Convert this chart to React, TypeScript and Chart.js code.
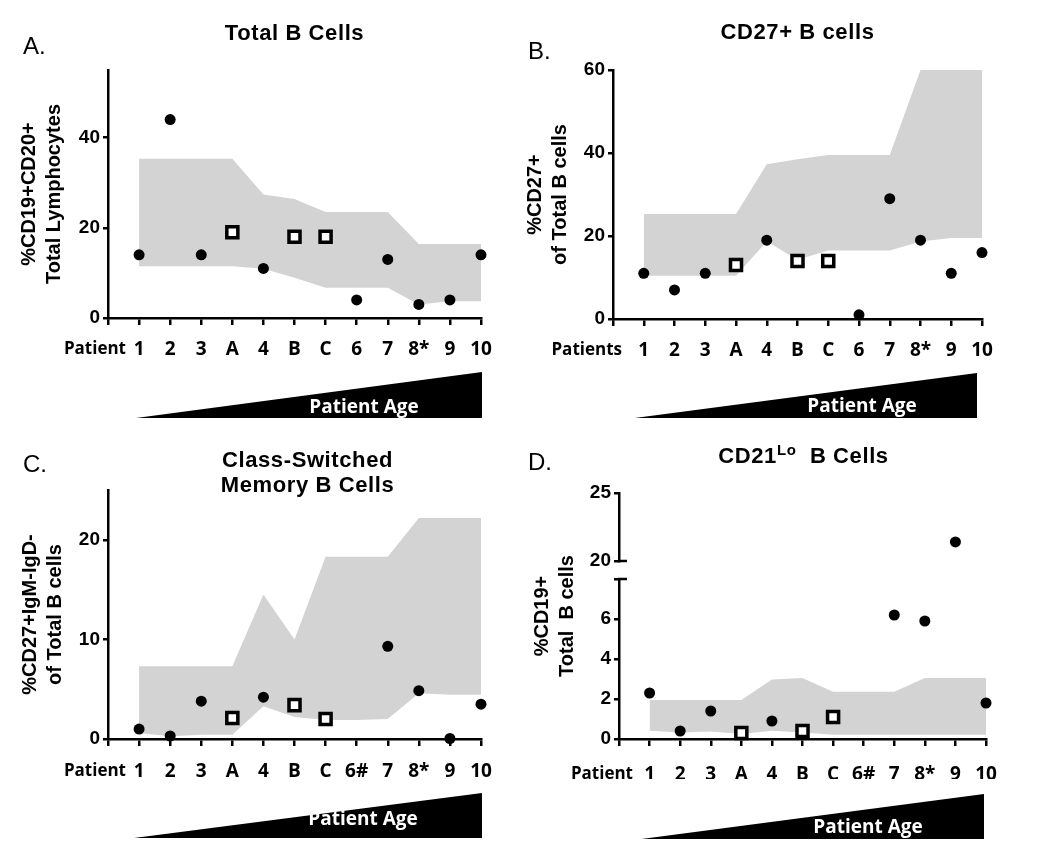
import React, { useEffect, useRef } from 'react';
import { Chart, registerables } from 'chart.js';

Chart.register(...registerables);

// ---------------- data ----------------
// x positions: index 0 is the axis origin, then the patients / controls in age order
const patientLabelsAB = ['1', '2', '3', 'A', '4', 'B', 'C', '6', '7', '8*', '9', '10'];
const patientLabelsCD = ['1', '2', '3', 'A', '4', 'B', 'C', '6#', '7', '8*', '9', '10'];

// A. Total B cells (%CD19+CD20+ of total lymphocytes)
const totalBPatients = [14, 44, 14, null, 11, null, null, 4, 13, 3, 4, 14];
const totalBControls = [null, null, null, 19, null, 18, 18, null, null, null, null, null];
const totalBRangeHigh = [35.3, 35.3, 35.3, 35.3, 27.4, 26.4, 23.5, 23.5, 23.5, 16.4, 16.4, 16.4];
const totalBRangeLow = [11.5, 11.5, 11.5, 11.5, 10.9, 8.9, 6.7, 6.7, 6.7, 3.0, 3.7, 3.7];

// B. CD27+ B cells (% of total B cells)
const cd27Patients = [11, 7, 11, null, 19, null, null, 1, 29, 19, 11, 16];
const cd27Controls = [null, null, null, 13, null, 14, 14, null, null, null, null, null];
const cd27RangeHigh = [25.3, 25.3, 25.3, 25.3, 37.3, 38.5, 39.5, 39.5, 39.5, 60, 60, 60];
const cd27RangeLow = [10.4, 10.4, 10.4, 10.4, 18.7, 14.3, 16.5, 16.5, 16.5, 18.7, 19.5, 19.5];

// C. Class-switched memory B cells (%CD27+IgM-IgD- of total B cells)
const csmPatients = [1.0, 0.3, 3.8, null, 4.2, null, null, null, 9.3, 4.85, 0.05, 3.5];
const csmControls = [null, null, null, 2.1, null, 3.4, 2.0, null, null, null, null, null];
const csmRangeHigh = [7.3, 7.3, 7.3, 7.3, 14.5, 10.0, 18.3, 18.3, 18.3, 22.2, 22.2, 22.2];
const csmRangeLow = [0.6, 0.27, 0.43, 0.43, 3.3, 2.2, 1.9, 1.9, 2.0, 4.6, 4.45, 4.45];

// D. CD21lo B cells (% of CD19+ total B cells)
const cd21Patients = [2.3, 0.4, 1.4, null, 0.9, null, null, null, 6.2, 5.9, 21.4, 1.8];
const cd21Controls = [null, null, null, 0.3, null, 0.4, 1.1, null, null, null, null, null];
const cd21RangeHigh = [1.95, 1.95, 1.95, 1.95, 2.97, 3.05, 2.36, 2.36, 2.36, 3.05, 3.05, 3.05];
const cd21RangeLow = [0.41, 0.33, 0.38, 0.25, 0.41, 0.33, 0.21, 0.21, 0.21, 0.21, 0.21, 0.21];

// ---------------- styles ----------------
const BAND = '#d3d3d3';
const ARIAL = '"Liberation Sans", Arial, Helvetica, sans-serif';
const OPEN = '"Open Sans", "Liberation Sans", sans-serif';
const X_FONT_SIZE = 19;

type Val = number | null;
type Seg = { t: string; sup?: boolean };

interface PanelDef {
  id: string;
  left: number; top: number; width: number; height: number;
  labels: string[];
  patients: Val[]; controls: Val[]; high: number[]; low: number[];
  yMin: number; yMax: number; yStep: number;
  brk?: { lowMax: number; lowStep: number; topMin: number; topMax: number; topStep: number; wLow: number; wGap: number; wTop: number };
  yTitle: string[]; yTitlePad: number;
  axisWidth: number; titleAxisWidth?: number;
  pad: { top: number; right: number; bottom: number };
  xTickPad: number;
  letter: string; letterX: number; letterY: number;
  title: Seg[][]; titleBase: number[]; titleDx: number;
  rowLabel: string; rowLabelDx: number;
  tri: { dl: number; dr: number; top: number; bottom: number; textDx: number; textBase: number };
}

const panels: PanelDef[] = [
  {
    id: 'A', left: 0, top: 0, width: 520, height: 420,
    labels: patientLabelsAB,
    patients: totalBPatients, controls: totalBControls, high: totalBRangeHigh, low: totalBRangeLow,
    yMin: 0, yMax: 55, yStep: 20,
    yTitle: ['%CD19+CD20+', 'Total Lymphocytes'], yTitlePad: 16.5,
    axisWidth: 108,
    pad: { top: 70, right: 39, bottom: 62 },
    xTickPad: 13,
    letter: 'A.', letterX: 23, letterY: 54,
    title: [[{ t: 'Total B Cells' }]], titleBase: [40], titleDx: 0,
    rowLabel: 'Patient', rowLabelDx: 18,
    tri: { dl: -3, dr: 1, top: 372, bottom: 418, textDx: -118, textBase: 413 },
  },
  {
    id: 'B', left: 520, top: 0, width: 530, height: 420,
    labels: patientLabelsAB,
    patients: cd27Patients, controls: cd27Controls, high: cd27RangeHigh, low: cd27RangeLow,
    yMin: 0, yMax: 60, yStep: 20,
    yTitle: ['%CD27+', 'of Total B cells'], yTitlePad: 2.5,
    axisWidth: 93,
    pad: { top: 70, right: 68, bottom: 61 },
    xTickPad: 13,
    letter: 'B.', letterX: 8, letterY: 59,
    title: [[{ t: 'CD27+ B cells' }]], titleBase: [39], titleDx: 0,
    rowLabel: 'Patients', rowLabelDx: 9,
    tri: { dl: -9, dr: -5, top: 373, bottom: 418, textDx: -115, textBase: 412 },
  },
  {
    id: 'C', left: 0, top: 420, width: 520, height: 422,
    labels: patientLabelsCD,
    patients: csmPatients, controls: csmControls, high: csmRangeHigh, low: csmRangeLow,
    yMin: 0, yMax: 25, yStep: 10,
    yTitle: ['%CD27+IgM-IgD-', 'of Total B cells'], yTitlePad: 17.5,
    axisWidth: 108,
    pad: { top: 70, right: 39, bottom: 63 },
    xTickPad: 14,
    letter: 'C.', letterX: 23, letterY: 52,
    title: [[{ t: 'Class-Switched' }], [{ t: 'Memory B Cells' }]], titleBase: [47, 72], titleDx: 13,
    rowLabel: 'Patient', rowLabelDx: 18,
    tri: { dl: -5, dr: 1, top: 373, bottom: 418, textDx: -119, textBase: 405 },
  },
  {
    id: 'D', left: 520, top: 420, width: 530, height: 422,
    labels: patientLabelsCD,
    patients: cd21Patients, controls: cd21Controls, high: cd21RangeHigh, low: cd21RangeLow,
    yMin: 0, yMax: 8, yStep: 2,
    brk: { lowMax: 8, lowStep: 2, topMin: 20, topMax: 25, topStep: 5, wLow: 160, wGap: 18, wTop: 68 },
    yTitle: ['%CD19+', 'Total  B cells'], yTitlePad: 9.5,
    axisWidth: 39, titleAxisWidth: 60,
    pad: { top: 73, right: 64, bottom: 63 },
    xTickPad: 17,
    letter: 'D.', letterX: 8, letterY: 50,
    title: [[{ t: 'CD21' }, { t: 'Lo', sup: true }, { t: '  B Cells' }]], titleBase: [43], titleDx: 1,
    rowLabel: 'Patient', rowLabelDx: 14,
    tri: { dl: -8, dr: -2, top: 374, bottom: 419, textDx: -116, textBase: 413 },
  },
];

const withOrigin = (a: Val[]): Val[] => [null, ...a];

const axisGrid = {
  display: true, drawOnChartArea: false, drawTicks: true,
  tickLength: 5, tickWidth: 2.5, tickColor: '#000', lineWidth: 2.5, color: '#000',
};
const axisBorder = { display: true, color: '#000', width: 2.5 };
const yTickFont = { family: ARIAL, size: 19, weight: 'bold' as const };
const yTitleFont = { family: ARIAL, size: 20, weight: 'bold' as const, lineHeight: 1.25 };

function pointSet(data: Val[], yAxisID: string) {
  return {
    type: 'line' as const, data: withOrigin(data), yAxisID, showLine: false,
    pointStyle: 'circle', pointRadius: 5.5, pointHoverRadius: 5.5,
    pointBackgroundColor: '#000', pointBorderWidth: 0, borderWidth: 0, clip: false as any,
  };
}

function decorPlugin(p: PanelDef) {
  return {
    id: 'decor' + p.id,
    afterDraw(chart: any) {
      const ctx: CanvasRenderingContext2D = chart.ctx;
      const ca = chart.chartArea;
      const xs = chart.scales.x;
      ctx.save();
      ctx.fillStyle = '#000';
      ctx.textBaseline = 'alphabetic';
      ctx.textAlign = 'left';
      // panel letter
      ctx.font = `24px ${ARIAL}`;
      ctx.fillText(p.letter, p.letterX, p.letterY);
      // title
      const cx = (ca.left + ca.right) / 2 + p.titleDx;
      (ctx as any).letterSpacing = '0.6px';
      p.title.forEach((line, i) => {
        const fonts = line.map((s) => (s.sup ? `bold 15px ${ARIAL}` : `bold 22px ${ARIAL}`));
        const widths = line.map((s, j) => {
          ctx.font = fonts[j];
          return ctx.measureText(s.t).width;
        });
        const total = widths.reduce((a, b) => a + b, 0);
        let x = cx - total / 2;
        line.forEach((s, j) => {
          ctx.font = fonts[j];
          ctx.fillText(s.t, x, p.titleBase[i] - (s.sup ? 8 : 0));
          x += widths[j];
        });
      });
      (ctx as any).letterSpacing = '0px';
      // row label ("Patient")
      ctx.font = `bold 17px ${OPEN}`;
      ctx.textAlign = 'right';
      ctx.textBaseline = 'middle';
      ctx.fillText(p.rowLabel, xs.getPixelForValue(0) + p.rowLabelDx, ca.bottom + 7 + p.xTickPad + X_FONT_SIZE * 0.6);
      // age wedge
      const xl = xs.getPixelForValue(1) + p.tri.dl;
      const xr = xs.getPixelForValue(p.labels.length) + p.tri.dr;
      ctx.beginPath();
      ctx.moveTo(xl, p.tri.bottom);
      ctx.lineTo(xr, p.tri.top);
      ctx.lineTo(xr, p.tri.bottom);
      ctx.closePath();
      ctx.fillStyle = '#000';
      ctx.fill();
      ctx.fillStyle = '#fff';
      ctx.font = `bold 19px ${OPEN}`;
      ctx.textAlign = 'center';
      ctx.textBaseline = 'alphabetic';
      ctx.fillText('Patient Age', xr + p.tri.textDx, p.tri.textBase);
      // axis break caps
      if (p.brk) {
        const yl = chart.scales.yLow;
        const yt = chart.scales.yTop;
        const ax = ca.left;
        ctx.strokeStyle = '#000';
        ctx.lineWidth = 2.5;
        ctx.beginPath();
        ctx.moveTo(ax - 1, yt.getPixelForValue(p.brk.topMin));
        ctx.lineTo(ax + 8, yt.getPixelForValue(p.brk.topMin));
        ctx.moveTo(ax - 1, yl.getPixelForValue(p.brk.lowMax));
        ctx.lineTo(ax + 8, yl.getPixelForValue(p.brk.lowMax));
        ctx.stroke();
      }
      ctx.restore();
    },
  };
}

function buildConfig(p: PanelDef): any {
  const lowId = p.brk ? 'yLow' : 'y';
  const datasets: any[] = [];
  if (p.brk) {
    const b = p.brk;
    datasets.push(pointSet(p.patients.map((v) => (v != null && v < b.lowMax ? v : null)), 'yLow'));
    datasets.push(pointSet(p.patients.map((v) => (v != null && v >= b.topMin ? v : null)), 'yTop'));
  } else {
    datasets.push(pointSet(p.patients, 'y'));
  }
  datasets.push({
    type: 'line', data: withOrigin(p.controls), yAxisID: lowId, showLine: false,
    pointStyle: 'rect', pointRadius: 7.8, pointHoverRadius: 7.8,
    pointBackgroundColor: '#fff', pointBorderColor: '#000', pointBorderWidth: 3.5, borderWidth: 0, clip: false,
  });
  datasets.push({
    type: 'line', data: withOrigin(p.high), yAxisID: lowId, borderWidth: 0, pointRadius: 0,
    backgroundColor: BAND, borderColor: BAND, fill: '+1', tension: 0,
  });
  datasets.push({
    type: 'line', data: withOrigin(p.low), yAxisID: lowId, borderWidth: 0, pointRadius: 0,
    backgroundColor: BAND, borderColor: BAND, fill: false, tension: 0,
  });

  const scales: any = {
    x: {
      type: 'category', labels: ['', ...p.labels], offset: false,
      grid: { ...axisGrid, tickLength: 7, offset: false },
      border: axisBorder,
      ticks: {
        autoSkip: false, maxRotation: 0, minRotation: 0, padding: p.xTickPad, color: '#000',
        font: { family: OPEN, size: X_FONT_SIZE, weight: 'bold' },
      },
      afterFit: (s: any) => { s.height = 40; },
    },
  };
  const yTitle = { display: true, text: p.yTitle, color: '#000', font: yTitleFont, padding: { top: p.yTitlePad, bottom: 0 } };
  if (p.brk) {
    const b = p.brk;
    const w = p.axisWidth;
    scales.yLow = {
      type: 'linear', position: 'left', stack: 'd', stackWeight: b.wLow, weight: 0,
      min: 0, max: b.lowMax,
      ticks: {
        stepSize: b.lowStep, includeBounds: false, autoSkip: false, padding: 3, color: '#000', font: yTickFont,
        callback: (v: number) => (v >= b.lowMax ? '' : String(v)),
      },
      grid: axisGrid, border: axisBorder,
      afterFit: (s: any) => { s.width = w; },
    };
    scales.yGap = {
      type: 'linear', position: 'left', stack: 'd', stackWeight: b.wGap, weight: 1,
      ticks: { display: false }, grid: { display: false }, border: { display: false },
      afterFit: (s: any) => { s.width = w; },
    };
    scales.yTop = {
      type: 'linear', position: 'left', stack: 'd', stackWeight: b.wTop, weight: 2,
      min: b.topMin, max: b.topMax,
      ticks: { stepSize: b.topStep, includeBounds: false, autoSkip: false, padding: 3, color: '#000', font: yTickFont },
      grid: axisGrid, border: axisBorder,
      afterFit: (s: any) => { s.width = w; },
    };
    scales.yTitle = {
      type: 'linear', position: 'left', weight: 10,
      ticks: { display: false }, grid: { display: false }, border: { display: false },
      title: yTitle,
      afterFit: (s: any) => { s.width = p.titleAxisWidth; },
    };
  } else {
    scales.y = {
      type: 'linear', position: 'left', min: p.yMin, max: p.yMax,
      ticks: { stepSize: p.yStep, includeBounds: false, autoSkip: false, padding: 3, color: '#000', font: yTickFont },
      grid: axisGrid, border: axisBorder,
      title: yTitle,
      afterFit: (s: any) => { s.width = p.axisWidth; },
    };
  }

  return {
    type: 'line',
    data: { labels: ['', ...p.labels], datasets },
    options: {
      animation: false,
      responsive: false,
      devicePixelRatio: 1,
      events: [],
      layout: { padding: { left: 0, top: p.pad.top, right: p.pad.right, bottom: p.pad.bottom } },
      plugins: { legend: { display: false }, tooltip: { enabled: false }, title: { display: false } },
      scales,
    },
    plugins: [decorPlugin(p)],
  };
}

function PanelChart({ p }: { p: PanelDef }) {
  const ref = useRef<HTMLCanvasElement>(null);
  useEffect(() => {
    if (!ref.current) return;
    const chart = new Chart(ref.current, buildConfig(p));
    return () => chart.destroy();
  }, [p]);
  return (
    <canvas
      ref={ref}
      width={p.width}
      height={p.height}
      style={{ position: 'absolute', left: p.left, top: p.top, width: p.width, height: p.height }}
    />
  );
}

export default function App() {
  return (
    <div style={{ position: 'absolute', left: 0, top: 0, width: 1050, height: 842, background: '#fff', overflow: 'hidden' }}>
      {panels.map((p) => (
        <PanelChart key={p.id} p={p} />
      ))}
    </div>
  );
}
